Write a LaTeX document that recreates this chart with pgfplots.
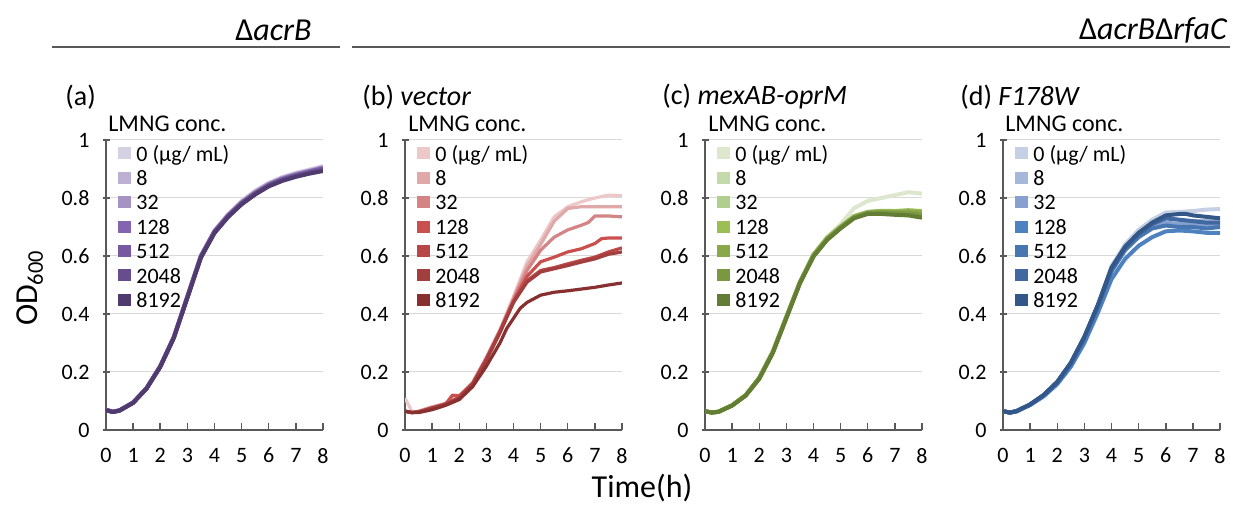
\documentclass[border=0pt]{standalone}
\usepackage{fontspec}
\setmainfont{Carlito}
\usepackage{pgfplots}
\pgfplotsset{compat=1.18}

% purple, red, green, blue shades: 0, 8, 32, 128, 512, 2048, 8192
\definecolor{aA}{HTML}{D6D0E3}\definecolor{aB}{HTML}{BDB1D3}\definecolor{aC}{HTML}{A493C3}
\definecolor{aD}{HTML}{8364AE}\definecolor{aE}{HTML}{7659A0}\definecolor{aF}{HTML}{664D8C}
\definecolor{aG}{HTML}{4F3B6E}
\definecolor{bA}{HTML}{EDC8C8}\definecolor{bB}{HTML}{E0A8A8}\definecolor{bC}{HTML}{D48484}
\definecolor{bD}{HTML}{C9504E}\definecolor{bE}{HTML}{B94747}\definecolor{bF}{HTML}{A23E3E}
\definecolor{bG}{HTML}{883030}
\definecolor{cA}{HTML}{DDE7CD}\definecolor{cB}{HTML}{C5DAAB}\definecolor{cC}{HTML}{B0CF8F}
\definecolor{cD}{HTML}{9BBF55}\definecolor{cE}{HTML}{88A84A}\definecolor{cF}{HTML}{7A9842}
\definecolor{cG}{HTML}{637D35}
\definecolor{dA}{HTML}{C5D0E4}\definecolor{dB}{HTML}{A6B8DA}\definecolor{dC}{HTML}{87A0CF}
\definecolor{dD}{HTML}{4E81C0}\definecolor{dE}{HTML}{4776B0}\definecolor{dF}{HTML}{3F69A0}
\definecolor{dG}{HTML}{325788}
\definecolor{axisgray}{HTML}{595959}
\definecolor{gridgray}{HTML}{D9D9D9}

\pgfplotsset{
  panel/.style={
    scale only axis, width=108.5pt, height=145pt, anchor=south west,
    xmin=0, xmax=8, ymin=0, ymax=1,
    xtick={0,...,8}, ytick={0,0.2,...,1},
    axis x line*=bottom, axis y line*=left,
    axis line style={draw=axisgray, line width=0.75pt},
    ymajorgrids, grid style={gridgray, line width=0.5pt},
    xtick align=inside, ytick align=center,
    major tick length=3.5pt,
    tick style={axisgray, line width=0.75pt},
    ticklabel style={font=\fontsize{11}{13}\selectfont, text=black},
    xticklabel style={yshift=-5.5pt},
    yticklabel style={xshift=-3pt},
    /pgf/number format/assume math mode=true,
    legend cell align=left,
    legend style={at={(axis description cs:0,1)}, anchor=north west,
      xshift=6pt, yshift=-2.6pt, draw=none, fill=none, inner sep=0pt,
      row sep=4.4pt, font=\fontsize{11}{13}\selectfont,
      nodes={inner xsep=2.5pt, inner ysep=0pt, text height=7.8pt, text depth=0pt}},
    legend image code/.code={\fill[draw=none] (0pt,-3pt) rectangle (6.5pt,3pt);},
    every axis plot/.append style={line width=2pt, no markers, line join=round},
  }
}

\begin{document}
\begin{tikzpicture}
\useasboundingbox (0,0) rectangle (616.5pt,252pt);

% group headers
\draw[axisgray, line width=0.8pt] (26pt,228.5pt) -- (170pt,228.5pt);
\draw[axisgray, line width=0.8pt] (176pt,228.5pt) -- (615pt,228.5pt);
\node[anchor=east, inner sep=0pt, font=\fontsize{16}{19}\selectfont] at (156pt,237pt) {Δ\textit{acrB}};
\node[anchor=east, inner sep=0pt, font=\fontsize{16}{19}\selectfont] at (614pt,237pt) {Δ\textit{acrB}Δ\textit{rfaC}};

% panel titles
\begin{scope}[every node/.style={anchor=west, inner sep=0pt, font=\fontsize{14}{17}\selectfont}]
\node at (32.5pt,203.5pt) {(a)};
\node at (181pt,203.5pt) {(b) \textit{vector}};
\node at (331pt,203.5pt) {(c) \textit{mexAB-oprM}};
\node at (480pt,203.5pt) {(d) \textit{F178W}};
\end{scope}
\begin{scope}[every node/.style={anchor=west, inner sep=0pt, font=\fontsize{12}{14}\selectfont}]
\node at (54pt,190pt) {LMNG conc.};
\node at (204pt,190pt) {LMNG conc.};
\node at (354pt,190pt) {LMNG conc.};
\node at (502.5pt,190pt) {LMNG conc.};
\end{scope}

\node[rotate=90, font=\fontsize{16}{19}\selectfont] at (15pt,108pt) {OD\textsubscript{600}};
\node[font=\fontsize{16}{19}\selectfont] at (321pt,8pt) {Time(h)};

% (a) delta acrB
\begin{axis}[panel, at={(53pt,37pt)}]
\addplot[color=aA] coordinates {(0,0.070)(0.25,0.063)(0.5,0.068)(1,0.096)(1.5,0.146)(2,0.222)(2.5,0.322)(3,0.462)(3.5,0.602)(4,0.688)(4.5,0.744)(5,0.79)(5.5,0.825)(6,0.852)(6.5,0.872)(7,0.887)(7.5,0.898)(8,0.91)};
\addlegendentry{0 (µg/ mL)}
\addplot[color=aB] coordinates {(0,0.070)(0.25,0.063)(0.5,0.068)(1,0.095)(1.5,0.145)(2,0.221)(2.5,0.321)(3,0.461)(3.5,0.601)(4,0.687)(4.5,0.742)(5,0.787)(5.5,0.822)(6,0.85)(6.5,0.87)(7,0.884)(7.5,0.895)(8,0.907)};
\addlegendentry{8}
\addplot[color=aC] coordinates {(0,0.070)(0.25,0.063)(0.5,0.068)(1,0.095)(1.5,0.145)(2,0.22)(2.5,0.32)(3,0.46)(3.5,0.60)(4,0.685)(4.5,0.74)(5,0.785)(5.5,0.82)(6,0.848)(6.5,0.868)(7,0.882)(7.5,0.893)(8,0.905)};
\addlegendentry{32}
\addplot[color=aD] coordinates {(0,0.070)(0.25,0.063)(0.5,0.068)(1,0.095)(1.5,0.145)(2,0.22)(2.5,0.32)(3,0.46)(3.5,0.60)(4,0.685)(4.5,0.74)(5,0.784)(5.5,0.818)(6,0.846)(6.5,0.866)(7,0.88)(7.5,0.892)(8,0.903)};
\addlegendentry{128}
\addplot[color=aE] coordinates {(0,0.069)(0.25,0.062)(0.5,0.067)(1,0.094)(1.5,0.144)(2,0.219)(2.5,0.319)(3,0.459)(3.5,0.598)(4,0.683)(4.5,0.738)(5,0.782)(5.5,0.816)(6,0.844)(6.5,0.864)(7,0.878)(7.5,0.889)(8,0.90)};
\addlegendentry{512}
\addplot[color=aF] coordinates {(0,0.069)(0.25,0.062)(0.5,0.067)(1,0.094)(1.5,0.144)(2,0.218)(2.5,0.318)(3,0.457)(3.5,0.596)(4,0.681)(4.5,0.736)(5,0.78)(5.5,0.814)(6,0.842)(6.5,0.861)(7,0.875)(7.5,0.886)(8,0.897)};
\addlegendentry{2048}
\addplot[color=aG] coordinates {(0,0.068)(0.25,0.062)(0.5,0.067)(1,0.093)(1.5,0.143)(2,0.217)(2.5,0.317)(3,0.455)(3.5,0.594)(4,0.679)(4.5,0.734)(5,0.778)(5.5,0.812)(6,0.84)(6.5,0.859)(7,0.873)(7.5,0.884)(8,0.893)};
\addlegendentry{8192}
\end{axis}

% (b) vector
\begin{axis}[panel, at={(202.5pt,37pt)}, every axis plot/.append style={line width=1.6pt}]
\addplot[color=bA] coordinates {(0,0.11)(0.25,0.065)(0.5,0.062)(0.75,0.072)(1,0.078)(1.5,0.09)(1.75,0.115)(2,0.118)(2.5,0.165)(3,0.25)(3.5,0.345)(4,0.46)(4.5,0.58)(5,0.655)(5.5,0.735)(6,0.77)(6.5,0.787)(7,0.80)(7.5,0.81)(8,0.808)};
\addlegendentry{0 (µg/ mL)}
\addplot[color=bB] coordinates {(0,0.065)(0.25,0.06)(0.5,0.065)(1,0.08)(1.5,0.09)(2,0.115)(2.5,0.165)(3,0.25)(3.5,0.345)(4,0.455)(4.5,0.565)(5,0.64)(5.5,0.72)(6,0.764)(6.5,0.77)(7,0.77)(7.5,0.77)(8,0.77)};
\addlegendentry{8}
\addplot[color=bC] coordinates {(0,0.065)(0.25,0.06)(0.5,0.063)(1,0.078)(1.5,0.092)(2,0.113)(2.5,0.163)(3,0.248)(3.5,0.343)(4,0.45)(4.5,0.55)(5,0.62)(5.5,0.665)(6,0.69)(6.5,0.706)(6.75,0.715)(7,0.738)(7.5,0.738)(8,0.735)};
\addlegendentry{32}
\addplot[color=bD] coordinates {(0,0.065)(0.25,0.06)(0.5,0.063)(1,0.076)(1.5,0.09)(1.75,0.12)(2,0.118)(2.5,0.16)(3,0.245)(3.5,0.34)(4,0.445)(4.5,0.53)(5,0.58)(5.5,0.596)(6,0.614)(6.5,0.625)(7,0.643)(7.25,0.66)(7.5,0.662)(8,0.662)};
\addlegendentry{128}
\addplot[color=bE] coordinates {(0,0.065)(0.25,0.06)(0.5,0.062)(1,0.075)(1.5,0.088)(2,0.112)(2.5,0.16)(3,0.243)(3.5,0.338)(4,0.44)(4.5,0.515)(5,0.55)(5.5,0.56)(6,0.573)(6.5,0.585)(7,0.596)(7.5,0.614)(8,0.628)};
\addlegendentry{512}
\addplot[color=bF] coordinates {(0,0.065)(0.25,0.06)(0.5,0.062)(1,0.075)(1.5,0.088)(2,0.11)(2.5,0.158)(3,0.24)(3.5,0.335)(4,0.44)(4.5,0.51)(5,0.545)(5.5,0.556)(6,0.567)(6.5,0.579)(7,0.59)(7.5,0.606)(8,0.614)};
\addlegendentry{2048}
\addplot[color=bG] coordinates {(0,0.065)(0.25,0.06)(0.5,0.06)(1,0.07)(1.5,0.085)(2,0.105)(2.5,0.15)(3,0.22)(3.5,0.30)(3.75,0.35)(4,0.385)(4.25,0.42)(4.5,0.44)(5,0.465)(5.5,0.475)(6,0.48)(6.5,0.486)(7,0.492)(7.5,0.50)(8,0.507)};
\addlegendentry{8192}
\end{axis}

% (c) mexAB-oprM
\begin{axis}[panel, at={(352.5pt,37pt)}]
\addplot[color=cA] coordinates {(0,0.065)(0.25,0.06)(0.5,0.063)(1,0.085)(1.5,0.12)(2,0.18)(2.5,0.27)(3,0.39)(3.5,0.51)(4,0.605)(4.5,0.665)(5,0.71)(5.5,0.765)(6,0.79)(6.5,0.80)(7,0.81)(7.5,0.82)(8,0.815)};
\addlegendentry{0 (µg/ mL)}
\addplot[color=cB] coordinates {(0,0.065)(0.25,0.06)(0.5,0.063)(1,0.085)(1.5,0.12)(2,0.18)(2.5,0.27)(3,0.39)(3.5,0.51)(4,0.605)(4.5,0.662)(5,0.70)(5.5,0.737)(6,0.752)(6.5,0.755)(7,0.752)(7.5,0.755)(8,0.75)};
\addlegendentry{8}
\addplot[color=cC] coordinates {(0,0.065)(0.25,0.06)(0.5,0.063)(1,0.085)(1.5,0.12)(2,0.18)(2.5,0.27)(3,0.39)(3.5,0.51)(4,0.603)(4.5,0.66)(5,0.70)(5.5,0.735)(6,0.75)(6.5,0.752)(7,0.75)(7.5,0.752)(8,0.745)};
\addlegendentry{32}
\addplot[color=cD] coordinates {(0,0.065)(0.25,0.06)(0.5,0.063)(1,0.085)(1.5,0.12)(2,0.18)(2.5,0.27)(3,0.39)(3.5,0.51)(4,0.605)(4.5,0.663)(5,0.702)(5.5,0.738)(6,0.752)(6.5,0.756)(7,0.755)(7.5,0.758)(8,0.755)};
\addlegendentry{128}
\addplot[color=cE] coordinates {(0,0.065)(0.25,0.06)(0.5,0.063)(1,0.085)(1.5,0.12)(2,0.18)(2.5,0.27)(3,0.39)(3.5,0.51)(4,0.603)(4.5,0.66)(5,0.70)(5.5,0.735)(6,0.75)(6.5,0.753)(7,0.752)(7.5,0.754)(8,0.75)};
\addlegendentry{512}
\addplot[color=cF] coordinates {(0,0.065)(0.25,0.06)(0.5,0.063)(1,0.085)(1.5,0.12)(2,0.178)(2.5,0.268)(3,0.388)(3.5,0.508)(4,0.6)(4.5,0.657)(5,0.698)(5.5,0.733)(6,0.748)(6.5,0.75)(7,0.748)(7.5,0.747)(8,0.742)};
\addlegendentry{2048}
\addplot[color=cG] coordinates {(0,0.065)(0.25,0.06)(0.5,0.063)(1,0.084)(1.5,0.118)(2,0.176)(2.5,0.265)(3,0.385)(3.5,0.505)(4,0.598)(4.5,0.655)(5,0.695)(5.5,0.73)(6,0.745)(6.5,0.745)(7,0.742)(7.5,0.74)(8,0.732)};
\addlegendentry{8192}
\end{axis}

% (d) F178W
\begin{axis}[panel, at={(501.5pt,37pt)}]
\addplot[color=dA] coordinates {(0,0.065)(0.25,0.06)(0.5,0.065)(1,0.088)(1.5,0.12)(2,0.165)(2.5,0.23)(3,0.32)(3.5,0.43)(4,0.565)(4.5,0.64)(5,0.69)(5.5,0.725)(6,0.75)(6.5,0.752)(7,0.755)(7.5,0.76)(8,0.762)};
\addlegendentry{0 (µg/ mL)}
\addplot[color=dB] coordinates {(0,0.065)(0.25,0.06)(0.5,0.065)(1,0.088)(1.5,0.12)(2,0.165)(2.5,0.23)(3,0.32)(3.5,0.43)(4,0.555)(4.5,0.628)(5,0.675)(5.5,0.71)(6,0.73)(6.5,0.725)(7,0.72)(7.5,0.72)(8,0.72)};
\addlegendentry{8}
\addplot[color=dC] coordinates {(0,0.065)(0.25,0.06)(0.5,0.065)(1,0.088)(1.5,0.12)(2,0.165)(2.5,0.23)(3,0.318)(3.5,0.425)(4,0.55)(4.5,0.622)(5,0.67)(5.5,0.70)(6,0.715)(6.5,0.71)(7,0.71)(7.5,0.705)(8,0.71)};
\addlegendentry{32}
\addplot[color=dD] coordinates {(0,0.065)(0.25,0.06)(0.5,0.064)(1,0.086)(1.5,0.116)(2,0.158)(2.5,0.218)(3,0.3)(3.5,0.405)(4,0.52)(4.5,0.59)(5,0.635)(5.5,0.665)(6,0.685)(6.5,0.688)(7,0.685)(7.5,0.68)(8,0.68)};
\addlegendentry{128}
\addplot[color=dE] coordinates {(0,0.065)(0.25,0.06)(0.5,0.065)(1,0.088)(1.5,0.12)(2,0.164)(2.5,0.228)(3,0.316)(3.5,0.424)(4,0.548)(4.5,0.62)(5,0.665)(5.5,0.695)(6,0.705)(6.5,0.70)(7,0.70)(7.5,0.695)(8,0.70)};
\addlegendentry{512}
\addplot[color=dF] coordinates {(0,0.065)(0.25,0.06)(0.5,0.065)(1,0.088)(1.5,0.12)(2,0.165)(2.5,0.23)(3,0.32)(3.5,0.43)(4,0.555)(4.5,0.628)(5,0.675)(5.5,0.71)(6,0.73)(6.5,0.725)(7,0.72)(7.5,0.715)(8,0.715)};
\addlegendentry{2048}
\addplot[color=dG] coordinates {(0,0.065)(0.25,0.06)(0.5,0.065)(1,0.088)(1.5,0.121)(2,0.166)(2.5,0.232)(3,0.322)(3.5,0.432)(4,0.56)(4.5,0.632)(5,0.68)(5.5,0.715)(6,0.74)(6.5,0.745)(6.75,0.745)(7,0.74)(7.5,0.735)(8,0.73)};
\addlegendentry{8192}
\end{axis}
\end{tikzpicture}
\end{document}
